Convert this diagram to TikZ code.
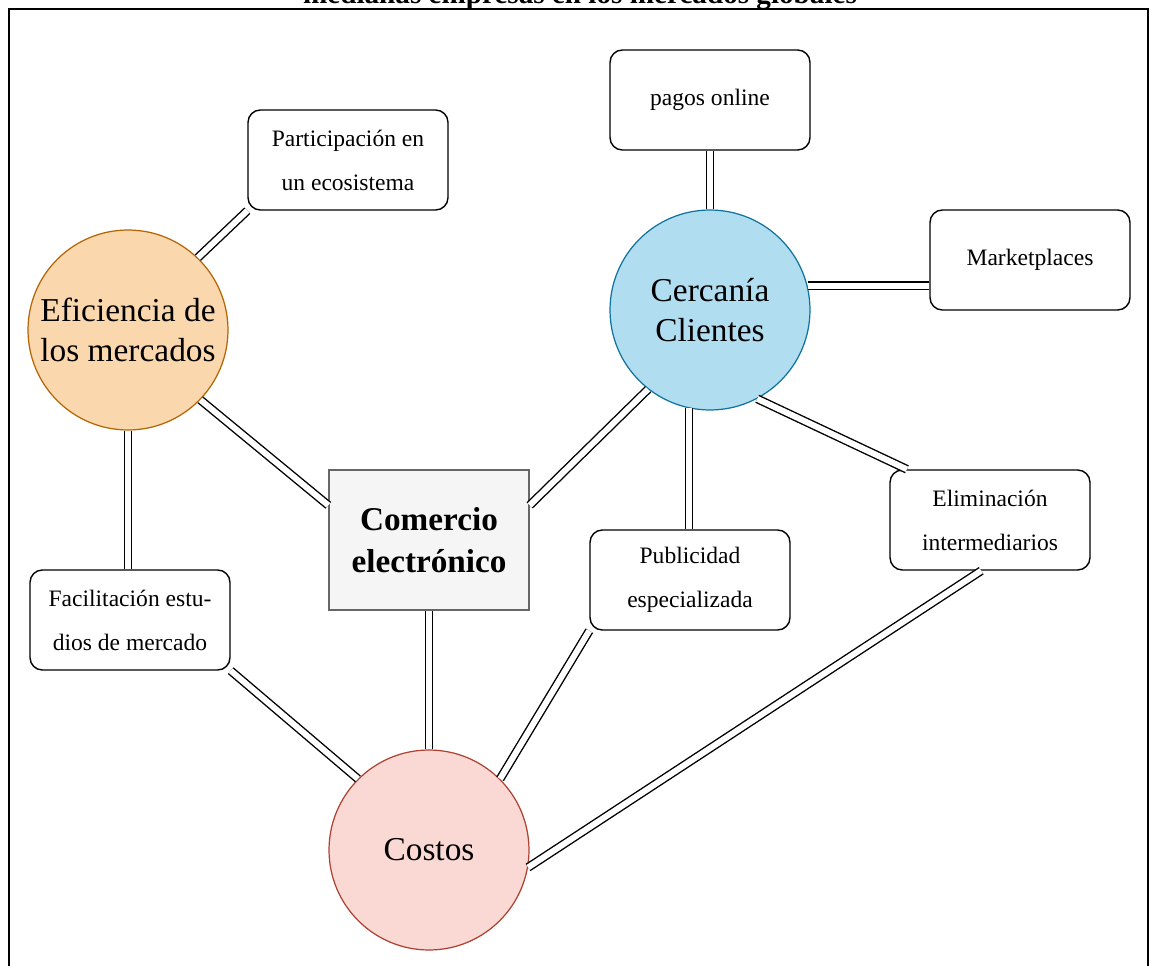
\documentclass[tikz,border=0pt]{standalone}
\usepackage{fontspec}
\setmainfont{Liberation Serif}
\usetikzlibrary{positioning}
\definecolor{naranja}{HTML}{FAD7AC}
\definecolor{naranjaborde}{HTML}{B46504}
\definecolor{celeste}{HTML}{B1DDF0}
\definecolor{celesteborde}{HTML}{10739E}
\definecolor{rosa}{HTML}{FAD9D5}
\definecolor{rosaborde}{HTML}{AE4132}
\definecolor{gris}{HTML}{F5F5F5}
\definecolor{grisborde}{HTML}{666666}
\tikzset{
  caja/.style={draw,rounded corners=7pt,line width=0.8pt,minimum width=4cm,
    minimum height=2cm,align=center,font=\fontsize{13.4}{25}\selectfont},
  circulo/.style={circle,draw,line width=0.7pt,minimum size=4cm,inner sep=0pt,
    align=center,font=\fontsize{19}{23}\selectfont},
  enlace/.style={double,double distance=3.4pt,line width=0.8pt}
}
\begin{document}
\begin{tikzpicture}[x=0.02cm,y=-0.02cm]
\useasboundingbox (0,0) rectangle (1150,966);
\draw[line width=1.1pt] (9,9) rectangle (1148,1010);
\node[anchor=base,font=\bfseries\fontsize{16.6}{18}\selectfont] (titulo) at (580,4)
  {medianas empresas en los mercados globales};
% circulos
\node[circulo,fill=naranja,draw=naranjaborde] (efi) at (128,330) {Eficiencia de\\los mercados};
\node[circulo,fill=celeste,draw=celesteborde] (cer) at (710,310) {Cercanía\\Clientes};
\node[circulo,fill=rosa,draw=rosaborde] (cos) at (429,850) {Costos};
% centro
\node[draw=grisborde,fill=gris,line width=0.8pt,minimum width=4cm,minimum height=2.8cm,
  align=center,font=\bfseries\fontsize{18.9}{24}\selectfont] (com) at (429,540) {Comercio\\electrónico};
% cajas
\node[caja] (par) at (348,160) {Participación en\\un ecosistema};
\node[caja] (pag) at (710,100) {pagos online};
\node[caja] (mkt) at (1030,260) {Marketplaces};
\node[caja] (eli) at (990,520) {Eliminación\\intermediarios};
\node[caja] (pub) at (690,580) {Publicidad\\especializada};
\node[caja] (fac) at (130,620) {Facilitación estu-\\dios de mercado};
% enlaces
\draw[enlace] (efi.46) -- (par.south west);
\draw[enlace] (efi.-44) -- (com.161.7);
\draw[enlace] (efi.south) -- (efi.south |- fac.north);
\draw[enlace] (cer.north) -- (pag.south);
\draw[enlace] (cer.14.8) -- (cer.14.8 -| mkt.west);
\draw[enlace] (cer.232) -- (com.19.3);
\draw[enlace] (cer.258.5) -- (cer.258.5 |- pub.north);
\draw[enlace] (cer.-62) -- ([xshift=10]eli.north west);
\draw[enlace] (com.south) -- (cos.north);
\draw[enlace] (fac.south east) -- (cos.135);
\draw[enlace] (pub.south west) -- (cos.45);
\draw[enlace] ([xshift=-5]eli.south) -- (cos.-10);
\end{tikzpicture}
\end{document}
